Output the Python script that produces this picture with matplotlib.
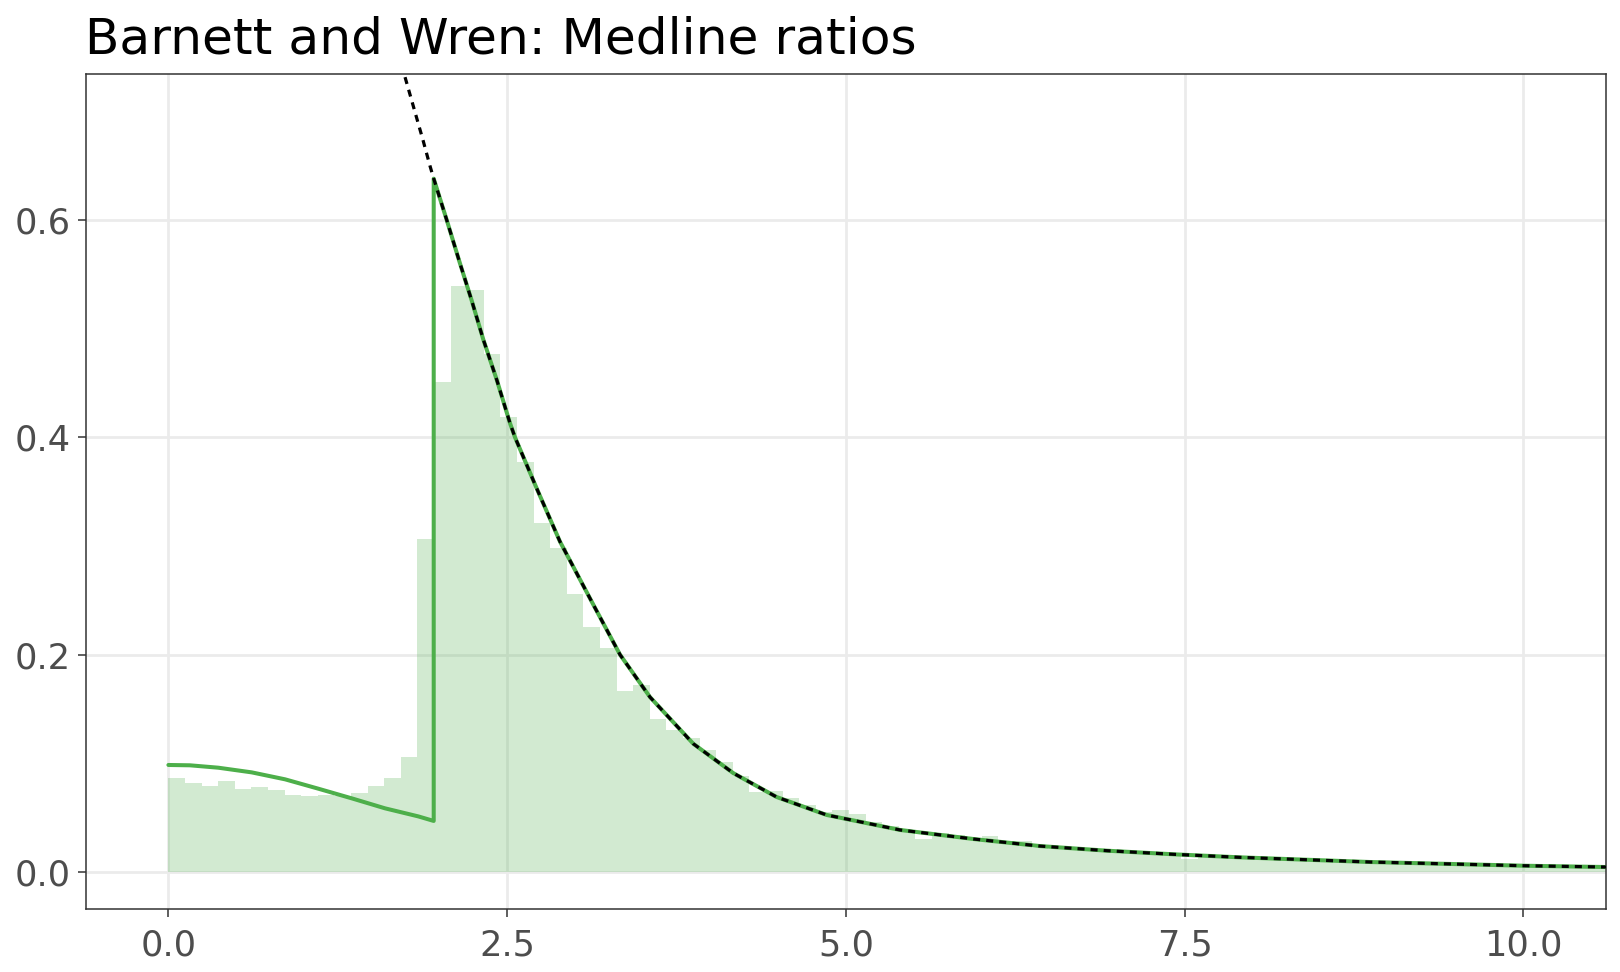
import numpy as np
import matplotlib
matplotlib.use('Agg')
import matplotlib.pyplot as plt

# histogram of ratios, bins of width 1.96/16 starting at 0
bin_width = 1.96 / 16
bin_heights = [
    0.0868, 0.0819, 0.0794, 0.0837, 0.0767, 0.0785, 0.0758, 0.0712,
    0.0697, 0.0706, 0.0699, 0.0727, 0.0794, 0.0868, 0.1061, 0.3064,
    0.4512, 0.5390, 0.5360, 0.4767, 0.4190, 0.3773, 0.3215, 0.2979,
    0.2558, 0.2258, 0.2064, 0.1666, 0.1721, 0.1408, 0.1307, 0.1230,
    0.1123, 0.1009, 0.0883, 0.0736, 0.0748, 0.0678, 0.0617, 0.0555,
    0.0571, 0.0534, 0.0460, 0.0425, 0.0370, 0.0300, 0.0360, 0.0340,
    0.0310, 0.0330, 0.0288, 0.0282, 0.0221, 0.0209, 0.0212, 0.0202,
    0.0190, 0.0181, 0.0172, 0.0163, 0.0154, 0.0123, 0.0156, 0.0135,
    0.0132, 0.0126, 0.0118, 0.0115, 0.0110, 0.0104, 0.0101, 0.0097,
    0.0093, 0.0090, 0.0088, 0.0085, 0.0081, 0.0078, 0.0076, 0.0072,
    0.0070, 0.0067, 0.0065, 0.0062, 0.0060, 0.0057, 0.0055,
]

# fitted density below the 1.96 threshold (green)
low_x = [0.0, 0.159, 0.368, 0.615, 0.861, 1.106, 1.353, 1.599, 1.844, 1.958]
low_y = [0.0985, 0.0982, 0.0960, 0.0917, 0.0853, 0.0767, 0.0678, 0.0586, 0.0512, 0.0470]

# tail density (black dotted, green follows it above 1.958)
tail_x = [1.72, 1.80, 1.88, 1.93, 1.958, 2.054, 2.152, 2.238, 2.324, 2.423,
          2.521, 2.558, 2.718, 2.89, 3.136, 3.333, 3.554, 3.874, 4.169, 4.489,
          4.858, 5.40, 5.94, 6.43, 6.93, 7.42, 7.91, 8.87, 10.0, 10.61]
tail_y = [0.743, 0.708, 0.673, 0.650, 0.638, 0.600, 0.560, 0.526, 0.490, 0.453,
          0.413, 0.400, 0.353, 0.304, 0.246, 0.200, 0.161, 0.118, 0.091, 0.069,
          0.0525, 0.0387, 0.0304, 0.0239, 0.0196, 0.0163, 0.0135, 0.0092, 0.0058, 0.0046]

xticks = [0.0, 2.5, 5.0, 7.5, 10.0]
yticks = [0.0, 0.2, 0.4, 0.6]

green = '#4DAF4A'

fig = plt.figure(figsize=(16.2, 9.72), dpi=100)
ax = fig.add_axes([86 / 1620, 1 - 909.3 / 972, (1605.7 - 86) / 1620, (909.3 - 73.7) / 972])

edges = np.arange(len(bin_heights) + 1) * bin_width
ax.stairs(bin_heights, edges, fill=True, color=green, alpha=0.25, linewidth=0, zorder=2)

tail_x = np.array(tail_x)
tail_y = np.array(tail_y)
keep = tail_x >= 1.958
green_x = np.concatenate([low_x, tail_x[keep]])
green_y = np.concatenate([low_y, tail_y[keep]])
ax.plot(green_x, green_y, color=green, lw=2.9, zorder=3,
        solid_joinstyle='round', solid_capstyle='round')
ax.plot(tail_x, tail_y, color='black', lw=2.3, linestyle=(0, (2.2, 1.9)), zorder=4)

ax.set_xlim(-0.608, 10.607)
ax.set_ylim(-0.0343, 0.7346)
ax.set_xticks(xticks)
ax.set_xticklabels(['%.1f' % v for v in xticks])
ax.set_yticks(yticks)
ax.set_yticklabels(['%.1f' % v for v in yticks])

ax.grid(True, color='#EBEBEB', lw=2.0)
ax.set_axisbelow(True)
for s in ax.spines.values():
    s.set_color('#333333')
    s.set_linewidth(1.1)

ax.tick_params(length=5.5, width=1.1, color='#333333', labelsize=25.4, labelcolor='#4D4D4D')
ax.tick_params(axis='x', pad=8.0)
ax.tick_params(axis='y', pad=5.5)

fig.text(85 / 1620, 1 - 53.3 / 972, 'Barnett and Wren: Medline ratios',
         fontsize=36.2, ha='left', va='baseline', color='black')

fig.savefig('out.png', dpi=100)
